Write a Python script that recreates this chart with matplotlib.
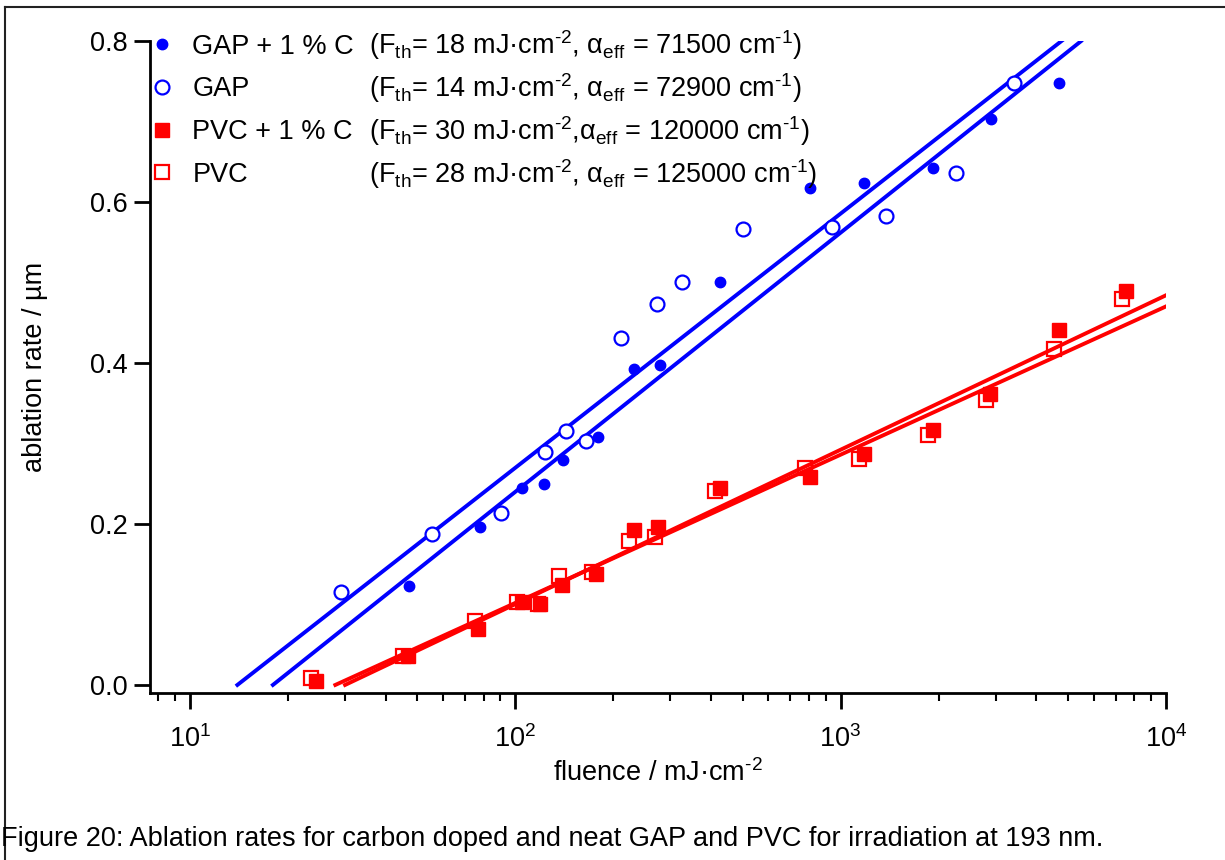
import numpy as np
import matplotlib
matplotlib.use('Agg')
import matplotlib.pyplot as plt
from matplotlib.lines import Line2D

plt.rcParams['font.family'] = ['Liberation Sans', 'DejaVu Sans']
plt.rcParams['mathtext.fontset'] = 'custom'
plt.rcParams['mathtext.rm'] = 'Liberation Sans'
plt.rcParams['mathtext.it'] = 'Liberation Sans'
plt.rcParams['mathtext.default'] = 'regular'

# --- data (fluence in mJ/cm^2, ablation rate in um) ---
gap_c_F = [47.3, 77.8, 104.9, 122.7, 140.6, 179.9, 231.7, 277.9, 425.5, 803.3,
           1179, 1919, 2899, 4687]
gap_c_d = [0.123, 0.196, 0.245, 0.250, 0.280, 0.308, 0.392, 0.397, 0.501, 0.617,
           0.623, 0.642, 0.703, 0.748]

gap_F = [29.05, 55.3, 90.3, 123.6, 143.0, 165.1, 211.0, 272.1, 324.6, 500.6,
         940.4, 1381, 2264, 3417]
gap_d = [0.115, 0.187, 0.213, 0.289, 0.315, 0.303, 0.431, 0.473, 0.500, 0.567,
         0.569, 0.582, 0.636, 0.748]

pvc_c_F = [24.5, 46.7, 76.8, 104.9, 119.1, 139.7, 176.8, 231.7, 274.6, 424.6,
           803, 1177, 1929, 2879, 4697, 7553]
pvc_c_d = [0.005, 0.036, 0.069, 0.103, 0.100, 0.124, 0.138, 0.193, 0.196, 0.245,
           0.258, 0.287, 0.317, 0.362, 0.441, 0.490]

pvc_F = [23.6, 45.1, 75.4, 101.6, 117.7, 136.5, 172.7, 223.7, 268.8, 410.0,
         775.4, 1136, 1862, 2805, 4533, 7329]
pvc_d = [0.008, 0.036, 0.079, 0.103, 0.101, 0.135, 0.140, 0.179, 0.184, 0.241,
         0.269, 0.281, 0.311, 0.354, 0.417, 0.480]

# fit parameters from the legend: threshold fluence (mJ/cm^2), alpha_eff (1/cm)
names = ['GAP + 1 % C', 'GAP', 'PVC + 1 % C', 'PVC']
f_th = [18, 14, 30, 28]
alpha_eff = [71500, 72900, 120000, 125000]
fit_end = [5480, 4790, 10000, 10000]
params = [r'(F$_{th}$= 18 mJ·cm$^{\text{-2}}$, α$_{eff}$ = 71500 cm$^{\text{-1}}$)',
          r'(F$_{th}$= 14 mJ·cm$^{\text{-2}}$, α$_{eff}$ = 72900 cm$^{\text{-1}}$)',
          r'(F$_{th}$= 30 mJ·cm$^{\text{-2}}$,α$_{eff}$ = 120000 cm$^{\text{-1}}$)',
          r'(F$_{th}$= 28 mJ·cm$^{\text{-2}}$, α$_{eff}$ = 125000 cm$^{\text{-1}}$)']

blue = '#0000ff'
red = '#ff0000'
fs = 19.5

fig = plt.figure(figsize=(12.25, 8.6), dpi=100)
ax = fig.add_axes([0.1224, 0.1942, 0.8294, 0.7581])

# fit lines  d = ln(F/Fth) / alpha
colors = [blue, blue, red, red]
for fth, a, fend, col in zip(f_th, alpha_eff, fit_end, colors):
    ff = np.logspace(np.log10(fth), np.log10(fend), 200)
    ax.plot(ff, np.log(ff / fth) / a * 1e4, color=col, lw=2.8, zorder=2)

# data points
ax.plot(gap_c_F, gap_c_d, 'o', ms=7.5, color=blue, mec=blue, zorder=3)
ax.plot(gap_F, gap_d, 'o', ms=10, mfc='white', mec=blue, mew=1.6, zorder=3)
ax.plot(pvc_F, pvc_d, 's', ms=9.5, mfc='none', mec=red, mew=1.6, zorder=3)
ax.plot(pvc_c_F, pvc_c_d, 's', ms=10, color=red, mec=red, zorder=3)

ax.set_xscale('log')
ax.set_xlim(7.54, 1e4)
ax.set_ylim(-0.01, 0.8)
ax.set_yticks([0.0, 0.2, 0.4, 0.6, 0.8])
ax.set_yticklabels(['0.0', '0.2', '0.4', '0.6', '0.8'])
ax.spines['top'].set_visible(False)
ax.spines['right'].set_visible(False)
for s in ['left', 'bottom']:
    ax.spines[s].set_linewidth(2)
ax.tick_params(which='major', direction='out', length=11.5, width=2, labelsize=fs, pad=4.5)
ax.tick_params(which='minor', direction='out', length=6, width=1.5)
ax.tick_params(axis='x', which='major', pad=12)
ax.set_xlabel(r'fluence / mJ·cm$^{\text{-2}}$', fontsize=fs, labelpad=4)
ax.set_ylabel('ablation rate / µm', fontsize=fs, labelpad=30)

# legend
handles = [
    Line2D([], [], ls='none', marker='o', ms=7.5, color=blue),
    Line2D([], [], ls='none', marker='o', ms=10, mfc='white', mec=blue, mew=1.6),
    Line2D([], [], ls='none', marker='s', ms=10, color=red),
    Line2D([], [], ls='none', marker='s', ms=9.5, mfc='none', mec=red, mew=1.6),
]
ax.legend(handles, names, loc='upper left', bbox_to_anchor=(-0.009, 1.028),
          frameon=False, fontsize=fs, handlelength=0.8, handletextpad=0.7,
          labelspacing=0.62, borderaxespad=0)
for i, p in enumerate(params):
    ax.text(0.2155, 0.994 - i * 0.066, p, transform=ax.transAxes, fontsize=fs,
            va='center', ha='left')

# caption and frame
fig.text(0.001, 0.025, 'Figure 20: Ablation rates for carbon doped and neat GAP and PVC '
         'for irradiation at 193 nm.', fontsize=fs, ha='left', va='center')
fig.add_artist(Line2D([0.004, 0.004], [0.0, 0.992], transform=fig.transFigure,
                      color='#222222', lw=1.5))
fig.add_artist(Line2D([0.004, 1.0], [0.992, 0.992], transform=fig.transFigure,
                      color='#222222', lw=1.5))

fig.savefig('out.png', dpi=100)
